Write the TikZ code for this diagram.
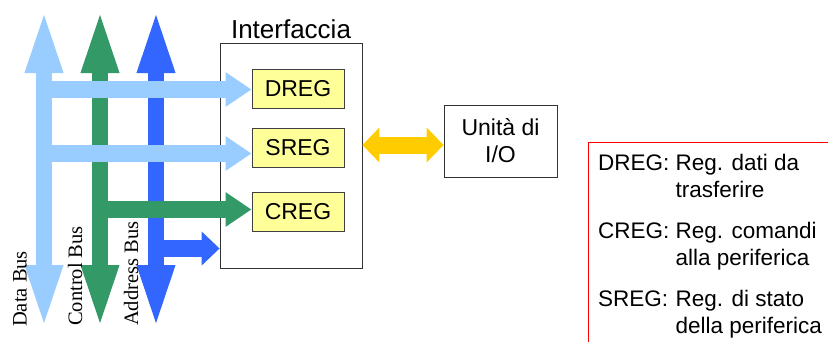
\documentclass[tikz,border=0pt]{standalone}
\usepackage{fontspec}
\setmainfont{Liberation Sans}
\newfontfamily\busfont{Liberation Serif}
\usetikzlibrary{arrows.meta}
\definecolor{databus}{HTML}{99CCFF}
\definecolor{ctrlbus}{HTML}{339966}
\definecolor{addrbus}{HTML}{3366FF}
\definecolor{iolink}{HTML}{FFCC00}
\definecolor{regfill}{HTML}{FFFF99}
\tikzset{
  bus/.style={line width=16pt,{Triangle[width=33pt,length=66pt]}-{Triangle[width=33pt,length=66pt]}},
  branch/.style={line width=17pt,-{Triangle[width=33pt,length=26pt]}},
  reg/.style={draw=black!75,line width=1pt,fill=regfill,minimum width=92pt,minimum height=39pt,inner sep=0pt},
  busname/.style={rotate=90,anchor=west,inner sep=0pt,font=\busfont\fontsize{20.5}{24}\selectfont},
}
\begin{document}
\begin{tikzpicture}[x=1pt,y=-1pt,font=\fontsize{23}{27}\selectfont]
  \useasboundingbox (0,0) rectangle (828,341);
  % interfaccia e registri
  \node[draw=black!80,line width=0.8pt,minimum width=142pt,minimum height=225pt,inner sep=0pt] (iface) at (291,155.5) {};
  \node[anchor=base,font=\fontsize{26}{30}\selectfont] (ifacelbl) at ([yshift=4pt]iface.north) {Interfaccia};
  \node[reg] (dreg) at (298,88.5) {DREG};
  \node[reg] (sreg) at (298,148) {SREG};
  \node[reg] (creg) at (298,212) {CREG};
  \node[draw=black!80,line width=0.8pt,minimum width=113pt,minimum height=72pt,align=center,inner sep=0pt] (io) at (500.5,141) {Unità di\\I/O};
  % bus
  \coordinate (dtop) at (44,7);
  \coordinate (dbot) at (44,331);
  \coordinate (ctop) at (100,7);
  \coordinate (cbot) at (100,331);
  \coordinate (atop) at (156,7);
  \coordinate (abot) at (156,331);
  \coordinate (d1) at (44,89.5);
  \coordinate (d2) at (44,153.5);
  \coordinate (c1) at (100,209.5);
  \coordinate (a1) at (156,248.5);
  \draw[bus,databus] (dbot) -- (dtop);
  \draw[bus,ctrlbus] (cbot) -- (ctop);
  \draw[bus,addrbus] (abot) -- (atop);
  \draw[branch,databus] (d1) -- (d1 -| dreg.west);
  \draw[branch,databus] (d2) -- (d2 -| sreg.west);
  \draw[branch,ctrlbus] (c1) -- (c1 -| creg.west);
  \draw[line width=17pt,addrbus,-{Triangle[width=33pt,length=18pt]}] (a1) -- (a1 -| iface.west);
  \draw[line width=17pt,iolink,{Triangle[width=34pt,length=17pt]}-{Triangle[width=34pt,length=17pt]}] ([yshift=-4pt]iface.east |- io.west) -- ([yshift=-4pt]io.west);
  \node[busname] (dname) at (20,327) {Data Bus};
  \node[busname] (cname) at (75,326) {Control Bus};
  \node[busname] (aname) at (131,326) {Address Bus};
  % legenda
  \draw[red,line width=0.8pt] (588,345) |- (830,142);
  \node[anchor=base west,inner sep=0pt,font=\fontsize{22.5}{27}\selectfont] (legend) at (598,170)
    {\begin{tabular}[t]{@{}l@{ }l@{}}
      DREG: & Reg. dati da\\
            & trasferire\\[14pt]
      CREG: & Reg. comandi\\
            & alla periferica\\[14pt]
      SREG: & Reg. di stato\\
            & della periferica
    \end{tabular}};
\end{tikzpicture}
\end{document}
